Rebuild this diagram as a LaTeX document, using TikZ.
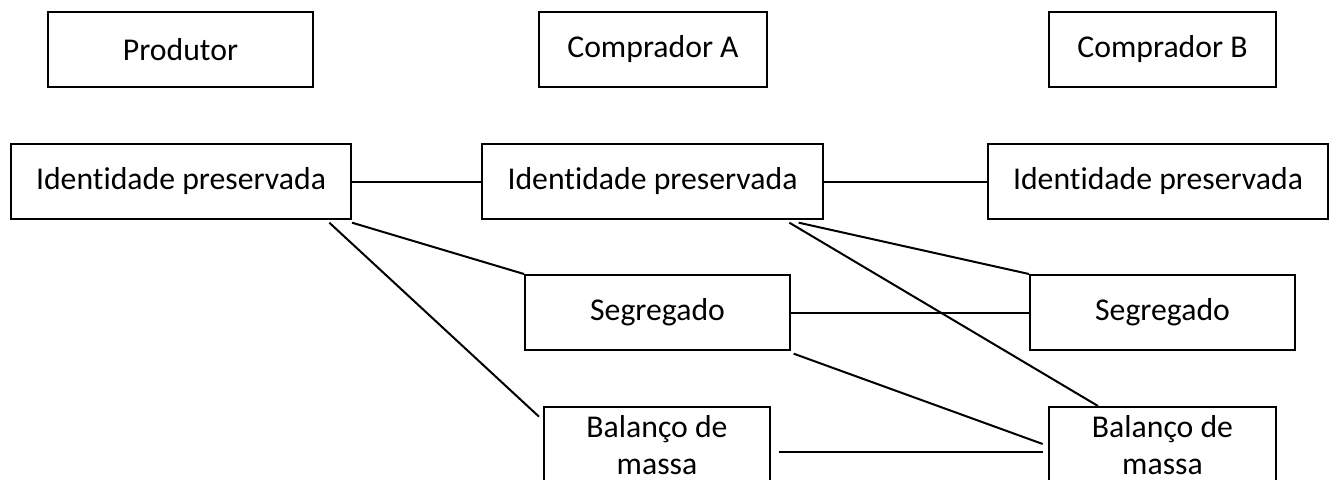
\documentclass[tikz,border=0pt]{standalone}
\usepackage{fontspec}
\setmainfont{Carlito}[Ligatures={NoCommon}]
\usetikzlibrary{positioning}

\begin{document}
\begin{tikzpicture}[
    x=0.75pt, y=-0.75pt,
    every node/.style={font=\fontsize{23.8pt}{27.5pt}\selectfont},
    box/.style={rectangle, draw=black, line width=1.5pt, fill=white,
        minimum height=56.25pt, inner sep=0pt, align=center},
    link/.style={draw=black, line width=1.5pt},
]
\useasboundingbox (0,0) rectangle (1329,479);
\clip (0,0) rectangle (1329,479);

% Actors
\node[box, minimum width=198.75pt] (prod) at (180.5,49.5) {Produtor};
\node[box, minimum width=171pt] (compA) at (653,49.5) {Comprador A};
\node[box, minimum width=170.25pt] (compB) at (1162.5,49.5) {Comprador B};

% Identity preserved row
\node[box, minimum width=255pt] (ipP) at (181,181.5) {Identidade preservada};
\node[box, minimum width=255.75pt] (ipA) at (652.5,181.5) {Identidade preservada};
\node[box, minimum width=255pt] (ipB) at (1158,181.5) {Identidade preservada};

% Segregated row
\node[box, minimum width=198.75pt] (segA) at (657.5,312.5) {Segregado};
\node[box, minimum width=198.75pt] (segB) at (1162.5,312.5) {Segregado};

% Mass balance row
\node[box, minimum width=169.5pt, minimum height=57pt] (balA) at (657,445) {Balanço de\\massa};
\node[box, minimum width=170.25pt, minimum height=57pt] (balB) at (1162.5,445) {Balanço de\\massa};

% Links
\draw[link] (ipP.east) -- (ipA.west);
\draw[link] (ipA.east) -- (ipB.west);
\draw[link] ([yshift=-2pt]ipP.south east) -- (segA.north west);
\draw[link] ([xshift=-17pt,yshift=-2pt]ipP.south east) -- ([xshift=-3pt,yshift=-8pt]balA.north west);
\draw[link] ([xshift=-26pt,yshift=-2pt]ipA.south east) -- ([xshift=37.5pt]balB.north west);
\draw[link] ([xshift=-19pt,yshift=-2pt]ipA.south east) -- (segB.north west);
\draw[link] (segA.east) -- (segB.west);
\draw[link] ([xshift=2pt,yshift=-2pt]segA.south east) -- ([xshift=-4pt,yshift=0.75pt]balB.west);
\draw[link] ([xshift=6pt,yshift=-5.25pt]balA.east) -- ([xshift=-4pt,yshift=-5.25pt]balB.west);
\end{tikzpicture}
\end{document}
